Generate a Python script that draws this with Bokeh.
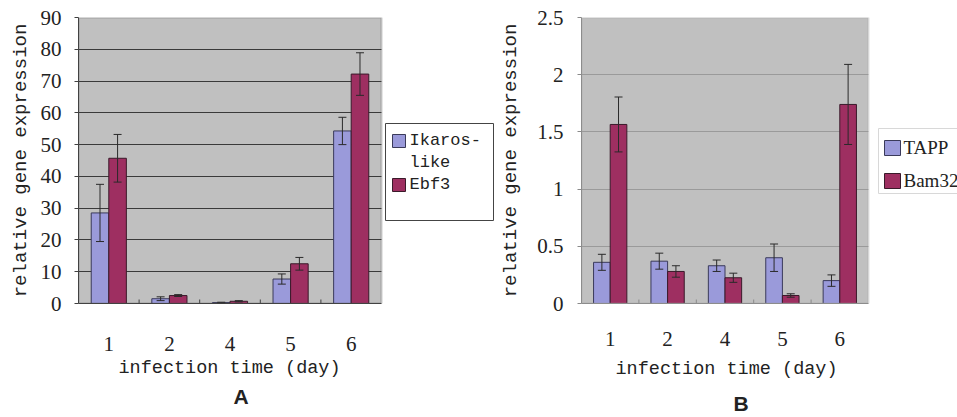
from bokeh.plotting import figure
from bokeh.models import (ColumnDataSource, Range1d, FixedTicker, Whisker, TeeHead,
                          BoxAnnotation, Title)
from bokeh.core.properties import value
from bokeh.transform import dodge
from bokeh.layouts import row
from bokeh.embed import file_html
from bokeh.resources import INLINE

# ---------------- data ----------------
days = ["1", "2", "4", "5", "6"]

ikaros = [28.5, 1.5, 0.3, 7.7, 54.3]
ikaros_err = [9.0, 0.6, 0.1, 1.6, 4.3]
ebf3 = [45.7, 2.5, 0.7, 12.5, 72.2]
ebf3_err = [7.5, 0.3, 0.2, 2.0, 6.7]

tapp = [0.36, 0.37, 0.33, 0.40, 0.20]
tapp_err = [0.07, 0.07, 0.05, 0.12, 0.05]
bam32 = [1.565, 0.28, 0.225, 0.07, 1.74]
bam32_err = [0.24, 0.05, 0.04, 0.015, 0.35]

a_ticks = [0, 10, 20, 30, 40, 50, 60, 70, 80, 90]
b_ticks = [0, 0.5, 1, 1.5, 2, 2.5]
b_tick_labels = ["0", "0.5", "1", "1.5", "2", "2.5"]

a_series = ["Ikaros-\nlike", "Ebf3"]
b_series = ["TAPP", "Bam32"]

x_title = "infection time (day)"
y_title = "relative gene expression"

BLUE = "#9a9ada"
RED = "#9e2f61"
BG = "#c0c0c0"
MONO = "Liberation Mono"
SERIF = "Liberation Serif"

FRAME_TOP, FRAME_BOTTOM = 17, 303      # pixel rows of the plot area (page coords)


class Panel:
    """Pixel -> data helpers for one chart panel (used only for legend placement)."""

    def __init__(self, left, cw, ymax):
        self.left, self.cw, self.ymax = left, cw, ymax

    def fx(self, px):
        return -0.5 + (px - self.left) / self.cw

    def fy(self, py):
        return (FRAME_BOTTOM - py) / (FRAME_BOTTOM - FRAME_TOP) * self.ymax


def make_panel(width, left_border, geo, ticks, s1, e1, s2, e2,
               axis_col, grid_col, outline_col, label_standoff, x_std, y_title_std):
    n = len(days)
    ymax = ticks[-1]
    xi = list(range(n))
    src = ColumnDataSource(dict(
        xi=xi, s1=s1, s2=s2,
        lo1=[v - e for v, e in zip(s1, e1)], hi1=[v + e for v, e in zip(s1, e1)],
        lo2=[v - e for v, e in zip(s2, e2)], hi2=[v + e for v, e in zip(s2, e2)],
    ))
    x_end = geo.fx(geo.left + (width - left_border))
    p = figure(width=width, height=417, x_range=Range1d(-0.5, x_end),
               y_range=Range1d(0, ymax), output_backend="svg", toolbar_location=None,
               min_border_left=left_border, min_border_right=0,
               min_border_top=FRAME_TOP, min_border_bottom=417 - FRAME_BOTTOM)
    p.background_fill_color = "white"
    p.border_fill_color = "white"
    p.outline_line_color = None

    # grey plot area (under the grid lines)
    p.add_layout(BoxAnnotation(left=-0.5, right=n - 0.5, bottom=0, top=ymax,
                               fill_color=BG, fill_alpha=1, line_color=None, level="image"))

    p.xgrid.visible = False
    p.ygrid.ticker = FixedTicker(ticks=ticks[1:-1])
    p.ygrid.grid_line_color = grid_col
    p.ygrid.grid_line_width = 1

    # white area right of the plot area (legend region), hides the grid lines there
    p.add_layout(BoxAnnotation(left=n - 0.5, right=x_end + 1, bottom=-ymax, top=2 * ymax,
                               fill_color="white", fill_alpha=1, line_color=None,
                               level="underlay"))

    p.vbar(x=dodge("xi", -0.145), top="s1", width=0.29, source=src,
           fill_color=BLUE, line_color="#3a3a5a", line_width=1)
    p.vbar(x=dodge("xi", 0.145), top="s2", width=0.29, source=src,
           fill_color=RED, line_color="#3a1a2a", line_width=1)
    for off, lo, hi in ((-0.145, "lo1", "hi1"), (0.145, "lo2", "hi2")):
        p.add_layout(Whisker(base=dodge("xi", off), lower=lo, upper=hi, source=src,
                             line_color="#2a2a2a", line_width=1, level="overlay",
                             upper_head=TeeHead(size=8, line_color="#2a2a2a", line_width=1),
                             lower_head=TeeHead(size=8, line_color="#2a2a2a", line_width=1)))

    # small category-boundary tick marks pointing into the plot
    tick_len = geo.fy(FRAME_BOTTOM - 4)
    bsrc = ColumnDataSource(dict(xi=xi[:-1], y0=[0] * (n - 1), y1=[tick_len] * (n - 1)))
    p.segment(x0=dodge("xi", 0.5), x1=dodge("xi", 0.5), y0="y0", y1="y1", source=bsrc,
              line_color=axis_col, line_width=1)

    # plot-area border
    p.add_layout(BoxAnnotation(left=-0.5, right=n - 0.5, bottom=0, top=ymax,
                               fill_alpha=0, line_color=outline_col, line_width=2,
                               level="overlay"))

    ya = p.yaxis[0]
    ya.ticker = FixedTicker(ticks=ticks)
    ya.axis_line_color = axis_col
    ya.major_tick_line_color = axis_col
    ya.major_tick_out = 4
    ya.major_tick_in = 0
    ya.minor_tick_line_color = None
    ya.major_label_text_font = SERIF
    ya.major_label_text_font_size = "21px"
    ya.major_label_text_color = "#222222"
    ya.major_label_standoff = label_standoff
    ya.axis_label = y_title
    ya.axis_label_text_font = MONO
    ya.axis_label_text_font_size = "19px"
    ya.axis_label_text_font_style = "normal"
    ya.axis_label_text_color = "#222222"
    ya.axis_label_standoff = y_title_std

    xa = p.xaxis[0]
    xa.ticker = FixedTicker(ticks=xi)
    xa.major_label_overrides = {i: d for i, d in zip(xi, days)}
    xa.bounds = (-0.5, n - 0.5)
    xa.axis_line_color = axis_col
    xa.major_tick_line_color = None
    xa.minor_tick_line_color = None
    xa.major_tick_out = 0
    xa.major_tick_in = 0
    xa.major_label_text_font = SERIF
    xa.major_label_text_font_size = "21px"
    xa.major_label_text_color = "#222222"
    xa.major_label_standoff = x_std
    return p


def add_legend(p, geo, names, box_px, sw_px, text_x, text_rows, font, size, box_col):
    l, r, t, b = box_px
    p.quad(left=[geo.fx(l)], right=[geo.fx(r)], top=[geo.fy(t)], bottom=[geo.fy(b)],
           fill_color="white", line_color=box_col, line_width=1)
    for (sl, sr, st, sb), col, edge in zip(sw_px, [BLUE, RED], ["#3a3a5a", "#3a1a2a"]):
        p.quad(left=[geo.fx(sl)], right=[geo.fx(sr)], top=[geo.fy(st)], bottom=[geo.fy(sb)],
               fill_color=col, line_color=edge, line_width=1)
    lines = [ln for name in names for ln in name.split("\n")]
    p.text(x=[geo.fx(text_x)] * len(lines), y=[geo.fy(py) for py in text_rows], text=lines,
           text_font=value(font), text_font_size=size, text_color="#222222",
           text_align="left", text_baseline="middle")


def add_titles(p, x_offset, x_standoff, tag, tag_offset, tag_standoff):
    p.add_layout(Title(text=x_title, align="left", offset=x_offset, standoff=x_standoff,
                       text_font=MONO, text_font_style="normal",
                       text_font_size="18.5px", text_color="#222222"), "below")
    p.add_layout(Title(text=tag, align="left", offset=tag_offset, standoff=tag_standoff,
                       text_font="Liberation Sans", text_font_style="bold",
                       text_font_size="21px", text_color="#222222"), "below")


# ---------------- panel A ----------------
geoA = Panel(78, 303 / 5, 90)
pA = make_panel(497, 78, geoA, a_ticks, ikaros, ikaros_err, ebf3, ebf3_err,
                "#404040", "#3a3a3a", "#505050", 13, 33, 6)
add_legend(pA, geoA, a_series, (385, 493, 123, 220),
           [(392, 405, 134, 147), (392, 405, 178, 191)],
           409, [140, 162, 184], MONO, "17px", "#444444")
add_titles(pA, 40, 4, "A", 155, 5)

# ---------------- panel B ----------------
geoB = Panel(581, 287 / 5, 2.5)
pB = make_panel(460, 84, geoB, b_ticks, tapp, tapp_err, bam32, bam32_err,
                "#8a8a8a", "#9a9a9a", "#9a9a9a", 14, 28, 12)
pB.yaxis[0].major_label_overrides = {t: l for t, l in zip(b_ticks, b_tick_labels)}
add_legend(pB, geoB, b_series, (878, 975, 128, 193),
           [(884, 900, 140, 155), (884, 900, 173, 188)],
           903, [147, 180], SERIF, "19px", "#d8d8d8")
add_titles(pB, 34, 17, "B", 152, 3)

layout = row(pA, pB)
open("out.html", "w").write(file_html(layout, INLINE))
